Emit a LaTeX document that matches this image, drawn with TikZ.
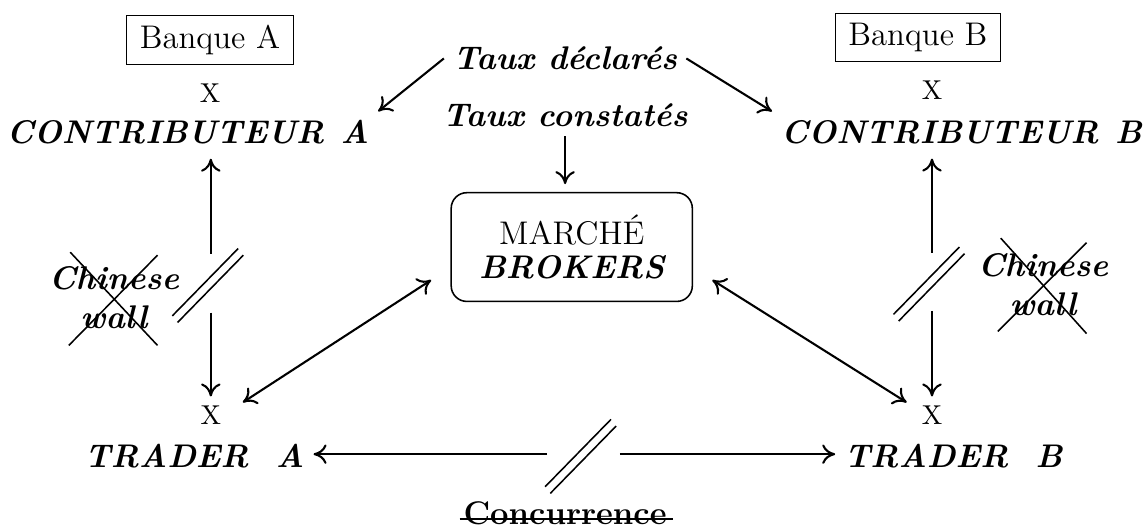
\documentclass[tikz,border=0pt]{standalone}
\usetikzlibrary{arrows,arrows.meta,calc}

\newcommand{\lgfont}{\fontsize{12.6}{15}\selectfont}

\begin{document}
\begin{tikzpicture}[
		>={Computer Modern Rightarrow[length=5pt,width=7.5pt]},
		lbl/.style={font=\lgfont\bfseries\itshape},
		bank/.style={draw,font=\lgfont,inner xsep=5pt,inner ysep=3.8pt},
		cross/.style={font=\fontsize{10.5}{12.6}\selectfont},
		arr/.style={->,thick},
		gap/.style={inner sep=0pt},
		strokeline/.style={semithick}
	]
	\useasboundingbox (-7.73,3.34) rectangle (7.75,-3.81);

	\node[bank] (bqA) at (-4.89,2.80) {Banque A};
	\node[cross] (xA) at (-4.89,2.08) {X};
	\node[lbl] (cA) at (-5.19,1.55) {CONTRIBUTEUR\enspace A};

	\node[bank] (bqB) at (4.68,2.83) {Banque B};
	\node[cross] (xB) at (4.87,2.12) {X};
	\node[lbl] (cB) at (5.27,1.55) {CONTRIBUTEUR\enspace B};

	\node[lbl] (declares) at (-0.09,2.55) {Taux déclarés};
	\node[lbl] (constates) at (-0.09,1.78) {Taux constatés};

	\node[draw,semithick,rounded corners=6pt,minimum width=3.26cm,minimum height=1.47cm,align=center] (marche) at (0,0) {
		{\lgfont MARCHÉ}\\[1pt]
		{\lgfont\bfseries\itshape BROKERS}
	};

	\node[cross] (xtA) at (-4.88,-2.27) {X};
	\node[lbl] (tA) at (-5.10,-2.82) {TRADER\ \ A};
	\node[cross] (xtB) at (4.87,-2.27) {X};
	\node[lbl] (tB) at (5.16,-2.82) {TRADER\ \ B};

	\node[font=\lgfont\bfseries] (conc) at (-0.09,-3.60) {Concurrence};
	\draw[strokeline] ([xshift=2pt,yshift=0.5ex]conc.base west) -- ([xshift=-1pt,yshift=0.5ex]conc.base east);

	% Chinese walls
	\node[lbl,align=center] (wallA) at (-6.19,-0.69) {Chinese\\wall};
	\draw[strokeline] ($(wallA)+(-0.59,0.62)$) -- ($(wallA)+(0.59,-0.64)$);
	\draw[strokeline] ($(wallA)+(0.59,0.58)$) -- ($(wallA)+(-0.61,-0.64)$);
	\node[lbl,align=center] (wallB) at (6.37,-0.51) {Chinese\\wall};
	\draw[strokeline] ($(wallB)+(-0.57,0.63)$) -- ($(wallB)+(0.59,-0.66)$);
	\draw[strokeline] ($(wallB)+(0.59,0.57)$) -- ($(wallB)+(-0.61,-0.63)$);

	% breaks
	\node[gap,minimum width=0.2cm,minimum height=0.78cm] (gA) at (-4.88,-0.49) {};
	\node[gap,minimum width=0.2cm,minimum height=0.77cm] (gB) at (4.87,-0.47) {};
	\node[gap,minimum width=0.97cm,minimum height=0.2cm] (gC) at (0.16,-2.80) {};
	\foreach \g in {gA,gB,gC} {
		\draw[strokeline] ($(\g)+(-0.52,-0.44)$) -- ($(\g)+(0.37,0.47)$);
		\draw[strokeline] ($(\g)+(-0.45,-0.53)$) -- ($(\g)+(0.44,0.38)$);
	}

	\draw[arr] (declares.west) -- (cA.north east);
	\draw[arr] (declares.east) -- (cB.north west);
	\draw[arr,shorten >=3pt] (constates.south) -- (constates.south |- marche.north);

	\draw[arr,shorten >=2pt] (gA.north) -- (gA.north |- cA.south);
	\draw[arr] (gA.south) -- (xtA.north);
	\draw[arr,shorten >=2pt] (gB.north) -- (gB.north |- cB.south);
	\draw[arr] (gB.south) -- (xtB.north);

	\draw[arr] (gC.west) -- (gC.west -| tA.east);
	\draw[arr] (gC.east) -- (gC.east -| tB.west);

	\draw[arr,<->] ([shift={(0.17,-0.08)}]xtA.north east) -- ([shift={(-0.26,0.30)}]marche.south west);
	\draw[arr,<->] ([shift={(0.26,0.30)}]marche.south east) -- ([shift={(-0.08,-0.08)}]xtB.north west);
\end{tikzpicture}
\end{document}
